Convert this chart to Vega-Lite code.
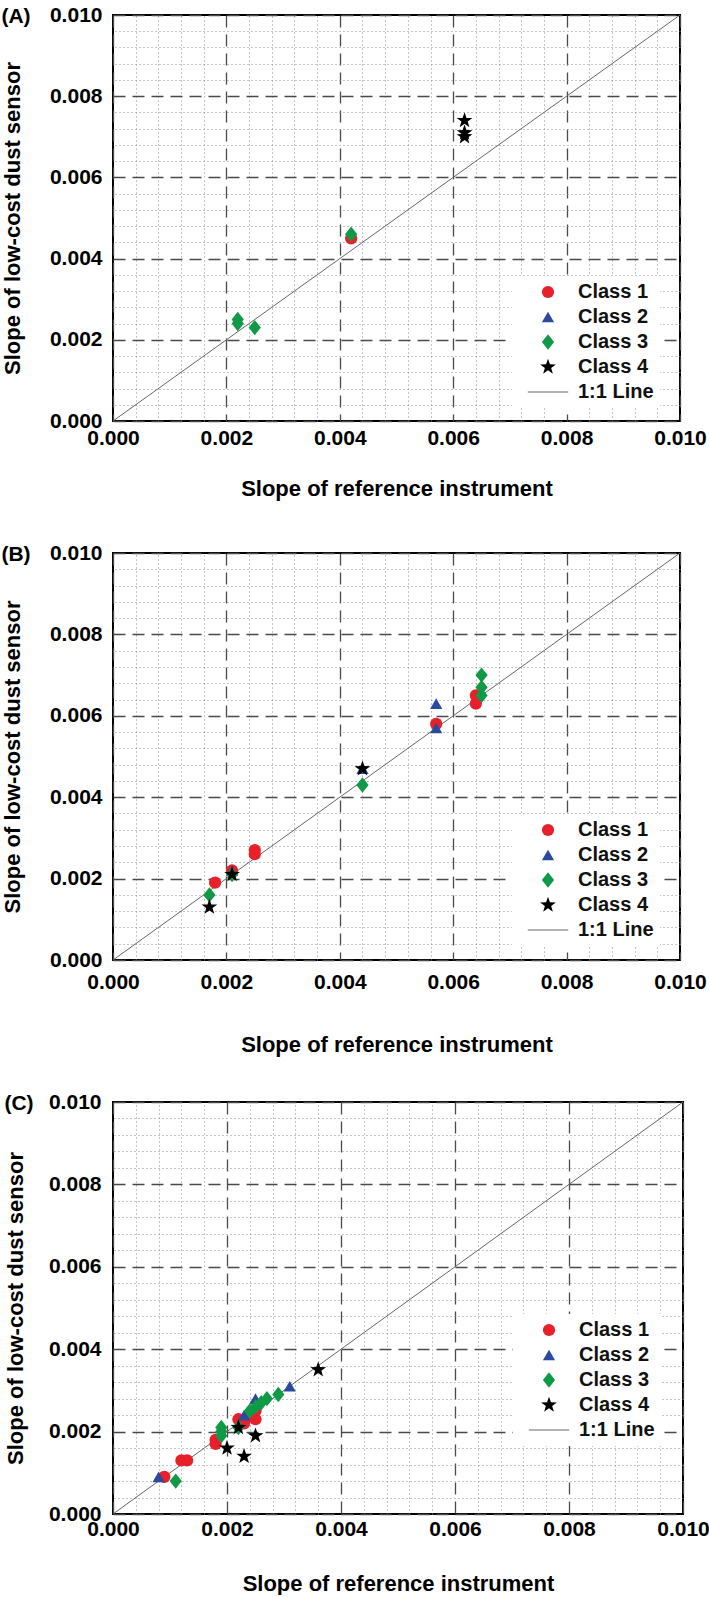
{
  "$schema": "https://vega.github.io/schema/vega-lite/v6.json",
  "padding": {"left": 0, "top": 3, "right": 0, "bottom": 0},
  "background": "white",
  "config": {
    "view": {"stroke": "#000000", "strokeWidth": 2},
    "font": "Liberation Sans",
    "title": {"font": "Liberation Sans", "fontSize": 21, "fontWeight": "bold", "color": "#000000", "anchor": "start", "frame": "bounds", "offset": -23}
  },
  "datasets": {
    "pts": [
      {"panel": "A", "cls": "Class 1", "x": 0.0042, "y": 0.0045},
      {"panel": "A", "cls": "Class 3", "x": 0.0042, "y": 0.0046},
      {"panel": "A", "cls": "Class 3", "x": 0.0022, "y": 0.0025},
      {"panel": "A", "cls": "Class 3", "x": 0.0022, "y": 0.0024},
      {"panel": "A", "cls": "Class 3", "x": 0.0025, "y": 0.0023},
      {"panel": "A", "cls": "Class 4", "x": 0.0062, "y": 0.0074},
      {"panel": "A", "cls": "Class 4", "x": 0.0062, "y": 0.0071},
      {"panel": "A", "cls": "Class 4", "x": 0.0062, "y": 0.0070},
      {"panel": "B", "cls": "Class 1", "x": 0.0057, "y": 0.0058},
      {"panel": "B", "cls": "Class 1", "x": 0.0025, "y": 0.0027},
      {"panel": "B", "cls": "Class 1", "x": 0.0025, "y": 0.0026},
      {"panel": "B", "cls": "Class 1", "x": 0.0018, "y": 0.0019},
      {"panel": "B", "cls": "Class 1", "x": 0.0021, "y": 0.0022},
      {"panel": "B", "cls": "Class 1", "x": 0.0064, "y": 0.0065},
      {"panel": "B", "cls": "Class 1", "x": 0.0064, "y": 0.0063},
      {"panel": "B", "cls": "Class 2", "x": 0.0057, "y": 0.0063},
      {"panel": "B", "cls": "Class 2", "x": 0.0057, "y": 0.0057},
      {"panel": "B", "cls": "Class 2", "x": 0.0044, "y": 0.0047},
      {"panel": "B", "cls": "Class 2", "x": 0.0021, "y": 0.0022},
      {"panel": "B", "cls": "Class 3", "x": 0.0044, "y": 0.0043},
      {"panel": "B", "cls": "Class 3", "x": 0.0021, "y": 0.0021},
      {"panel": "B", "cls": "Class 3", "x": 0.0017, "y": 0.0016},
      {"panel": "B", "cls": "Class 3", "x": 0.0065, "y": 0.0070},
      {"panel": "B", "cls": "Class 3", "x": 0.0065, "y": 0.0067},
      {"panel": "B", "cls": "Class 3", "x": 0.0065, "y": 0.0065},
      {"panel": "B", "cls": "Class 4", "x": 0.0044, "y": 0.0047},
      {"panel": "B", "cls": "Class 4", "x": 0.0021, "y": 0.0021},
      {"panel": "B", "cls": "Class 4", "x": 0.0017, "y": 0.0013},
      {"panel": "C", "cls": "Class 1", "x": 0.0025, "y": 0.0023},
      {"panel": "C", "cls": "Class 1", "x": 0.0024, "y": 0.0024},
      {"panel": "C", "cls": "Class 1", "x": 0.0025, "y": 0.0025},
      {"panel": "C", "cls": "Class 1", "x": 0.0022, "y": 0.0023},
      {"panel": "C", "cls": "Class 1", "x": 0.0023, "y": 0.0022},
      {"panel": "C", "cls": "Class 1", "x": 0.0018, "y": 0.0018},
      {"panel": "C", "cls": "Class 1", "x": 0.0018, "y": 0.0017},
      {"panel": "C", "cls": "Class 1", "x": 0.0012, "y": 0.0013},
      {"panel": "C", "cls": "Class 1", "x": 0.0013, "y": 0.0013},
      {"panel": "C", "cls": "Class 1", "x": 0.0009, "y": 0.0009},
      {"panel": "C", "cls": "Class 2", "x": 0.0031, "y": 0.0031},
      {"panel": "C", "cls": "Class 2", "x": 0.0025, "y": 0.0028},
      {"panel": "C", "cls": "Class 2", "x": 0.0023, "y": 0.0024},
      {"panel": "C", "cls": "Class 2", "x": 0.0008, "y": 0.0009},
      {"panel": "C", "cls": "Class 3", "x": 0.0029, "y": 0.0029},
      {"panel": "C", "cls": "Class 3", "x": 0.0027, "y": 0.0028},
      {"panel": "C", "cls": "Class 3", "x": 0.0026, "y": 0.0027},
      {"panel": "C", "cls": "Class 3", "x": 0.0025, "y": 0.0026},
      {"panel": "C", "cls": "Class 3", "x": 0.0024, "y": 0.0025},
      {"panel": "C", "cls": "Class 3", "x": 0.0022, "y": 0.0021},
      {"panel": "C", "cls": "Class 3", "x": 0.0019, "y": 0.0021},
      {"panel": "C", "cls": "Class 3", "x": 0.0019, "y": 0.0020},
      {"panel": "C", "cls": "Class 3", "x": 0.0019, "y": 0.0019},
      {"panel": "C", "cls": "Class 3", "x": 0.0011, "y": 0.0008},
      {"panel": "C", "cls": "Class 4", "x": 0.0036, "y": 0.0035},
      {"panel": "C", "cls": "Class 4", "x": 0.0022, "y": 0.0021},
      {"panel": "C", "cls": "Class 4", "x": 0.0020, "y": 0.0016},
      {"panel": "C", "cls": "Class 4", "x": 0.0025, "y": 0.0019},
      {"panel": "C", "cls": "Class 4", "x": 0.0023, "y": 0.0014}
    ],
    "line": [{"x": 0, "y": 0}, {"x": 0.01, "y": 0.01}]
  },
  "bounds": "flush",
  "spacing": 132,
  "resolve": {"scale": {"color": "independent", "shape": "independent"}, "legend": {"color": "independent", "shape": "independent"}},
  "vconcat": [
    {
      "title": {"text": "(A)"},
      "width": 567, "height": 406,
      "resolve": {"axis": {"x": "independent", "y": "independent"}},
      "layer": [
        {
          "data": {"name": "line"},
          "mark": {"type": "line", "color": "#666666", "strokeWidth": 1},
          "encoding": {
            "x": {"field": "x", "type": "quantitative", "scale": {"domain": [0, 0.01], "nice": false},
              "axis": {"orient": "top", "values": [0.0004,0.0008,0.0012,0.0016,0.0024,0.0028,0.0032,0.0036,0.0044,0.0048,0.0052,0.0056,0.0064,0.0068,0.0072,0.0076,0.0084,0.0088,0.0092,0.0096], "grid": true, "gridDash": [1, 3], "gridColor": "#8a8a8a", "gridWidth": 1, "labels": false, "ticks": false, "domain": false, "title": null}},
            "y": {"field": "y", "type": "quantitative", "scale": {"domain": [0, 0.01], "nice": false},
              "axis": {"orient": "right", "values": [0.0004,0.0008,0.0012,0.0016,0.0024,0.0028,0.0032,0.0036,0.0044,0.0048,0.0052,0.0056,0.0064,0.0068,0.0072,0.0076,0.0084,0.0088,0.0092,0.0096], "grid": true, "gridDash": [1, 3], "gridColor": "#8a8a8a", "gridWidth": 1, "labels": false, "ticks": false, "domain": false, "title": null}}
          }
        },
        {
          "data": {"name": "pts"},
          "transform": [{"filter": "datum.panel === 'A'"}],
          "mark": {"type": "point", "filled": true, "opacity": 1, "size": 150},
          "encoding": {
            "x": {"field": "x", "type": "quantitative", "scale": {"domain": [0, 0.01], "nice": false},
              "axis": {"orient": "bottom", "values": [0, 0.002, 0.004, 0.006, 0.008, 0.01], "format": ".3f", "grid": true, "gridDash": [12, 7], "gridColor": "#4a4a4a", "gridWidth": 1.3, "ticks": false, "domain": false, "labelFlush": false, "labelFont": "Liberation Sans", "labelFontSize": 21, "labelFontWeight": "bold", "labelColor": "#000000", "labelPadding": 6, "title": "Slope of reference instrument", "titleFont": "Liberation Sans", "titleFontSize": 22, "titleFontWeight": "bold", "titleColor": "#000000", "titlePadding": 30}},
            "y": {"field": "y", "type": "quantitative", "scale": {"domain": [0, 0.01], "nice": false},
              "axis": {"orient": "left", "values": [0, 0.002, 0.004, 0.006, 0.008, 0.01], "format": ".3f", "grid": true, "gridDash": [12, 7], "gridColor": "#4a4a4a", "gridWidth": 1.3, "ticks": false, "domain": false, "labelFlush": false, "labelFont": "Liberation Sans", "labelFontSize": 21, "labelFontWeight": "bold", "labelColor": "#000000", "labelPadding": 11, "title": "Slope of low-cost dust sensor", "titleFont": "Liberation Sans", "titleFontSize": 22, "titleFontWeight": "bold", "titleColor": "#000000", "titlePadding": 25}},
            "color": {"field": "cls", "type": "nominal", "scale": {"domain": ["Class 1", "Class 2", "Class 3", "Class 4", "1:1 Line"], "range": ["#e8202a", "#2b4a9e", "#109a48", "#000000", "#666666"]},
              "legend": {"orient": "none", "legendX": 399, "legendY": 261, "title": null, "fillColor": "white", "padding": 6, "labelFont": "Liberation Sans", "labelFontSize": 20, "labelFontWeight": "bold", "labelColor": "#111111", "symbolSize": 150, "symbolOffset": 20, "labelOffset": 20, "rowPadding": 5}},
            "shape": {"field": "cls", "type": "nominal", "scale": {"domain": ["Class 1", "Class 2", "Class 3", "Class 4", "1:1 Line"], "range": ["circle", "triangle-up", "M0,-1.25L1,0L0,1.25L-1,0Z", "M0,-1.35L0.317,-0.437L1.284,-0.417L0.513,0.168L0.794,1.092L0,0.54L-0.794,1.092L-0.513,0.168L-1.284,-0.417L-0.317,-0.437Z", "M-3.3,-0.09H3.3V0.09H-3.3Z"]},
              "legend": {"orient": "none", "legendX": 399, "legendY": 261, "title": null, "fillColor": "white", "padding": 6, "labelFont": "Liberation Sans", "labelFontSize": 20, "labelFontWeight": "bold", "labelColor": "#111111", "symbolSize": 150, "symbolOffset": 20, "labelOffset": 20, "rowPadding": 5}}
          }
        }
      ]
    },
    {
      "bounds": "flush",
      "spacing": 142,
      "resolve": {"scale": {"color": "independent", "shape": "independent"}, "legend": {"color": "independent", "shape": "independent"}},
      "vconcat": [
        {
          "title": {"text": "(B)"},
          "width": 567, "height": 407,
          "resolve": {"axis": {"x": "independent", "y": "independent"}},
          "layer": [
            {
              "data": {"name": "line"},
              "mark": {"type": "line", "color": "#666666", "strokeWidth": 1},
              "encoding": {
                "x": {"field": "x", "type": "quantitative", "scale": {"domain": [0, 0.01], "nice": false},
                  "axis": {"orient": "top", "values": [0.0004,0.0008,0.0012,0.0016,0.0024,0.0028,0.0032,0.0036,0.0044,0.0048,0.0052,0.0056,0.0064,0.0068,0.0072,0.0076,0.0084,0.0088,0.0092,0.0096], "grid": true, "gridDash": [1, 3], "gridColor": "#8a8a8a", "gridWidth": 1, "labels": false, "ticks": false, "domain": false, "title": null}},
                "y": {"field": "y", "type": "quantitative", "scale": {"domain": [0, 0.01], "nice": false},
                  "axis": {"orient": "right", "values": [0.0004,0.0008,0.0012,0.0016,0.0024,0.0028,0.0032,0.0036,0.0044,0.0048,0.0052,0.0056,0.0064,0.0068,0.0072,0.0076,0.0084,0.0088,0.0092,0.0096], "grid": true, "gridDash": [1, 3], "gridColor": "#8a8a8a", "gridWidth": 1, "labels": false, "ticks": false, "domain": false, "title": null}}
              }
            },
            {
              "data": {"name": "pts"},
              "transform": [{"filter": "datum.panel === 'B'"}],
              "mark": {"type": "point", "filled": true, "opacity": 1, "size": 150},
              "encoding": {
                "x": {"field": "x", "type": "quantitative", "scale": {"domain": [0, 0.01], "nice": false},
                  "axis": {"orient": "bottom", "values": [0, 0.002, 0.004, 0.006, 0.008, 0.01], "format": ".3f", "grid": true, "gridDash": [12, 7], "gridColor": "#4a4a4a", "gridWidth": 1.3, "ticks": false, "domain": false, "labelFlush": false, "labelFont": "Liberation Sans", "labelFontSize": 21, "labelFontWeight": "bold", "labelColor": "#000000", "labelPadding": 11, "title": "Slope of reference instrument", "titleFont": "Liberation Sans", "titleFontSize": 22, "titleFontWeight": "bold", "titleColor": "#000000", "titlePadding": 42}},
                "y": {"field": "y", "type": "quantitative", "scale": {"domain": [0, 0.01], "nice": false},
                  "axis": {"orient": "left", "values": [0, 0.002, 0.004, 0.006, 0.008, 0.01], "format": ".3f", "grid": true, "gridDash": [12, 7], "gridColor": "#4a4a4a", "gridWidth": 1.3, "ticks": false, "domain": false, "labelFlush": false, "labelFont": "Liberation Sans", "labelFontSize": 21, "labelFontWeight": "bold", "labelColor": "#000000", "labelPadding": 11, "title": "Slope of low-cost dust sensor", "titleFont": "Liberation Sans", "titleFontSize": 22, "titleFontWeight": "bold", "titleColor": "#000000", "titlePadding": 25}},
                "color": {"field": "cls", "type": "nominal", "scale": {"domain": ["Class 1", "Class 2", "Class 3", "Class 4", "1:1 Line"], "range": ["#e8202a", "#2b4a9e", "#109a48", "#000000", "#666666"]},
                  "legend": {"orient": "none", "legendX": 399, "legendY": 261, "title": null, "fillColor": "white", "padding": 6, "labelFont": "Liberation Sans", "labelFontSize": 20, "labelFontWeight": "bold", "labelColor": "#111111", "symbolSize": 150, "symbolOffset": 20, "labelOffset": 20, "rowPadding": 5}},
                "shape": {"field": "cls", "type": "nominal", "scale": {"domain": ["Class 1", "Class 2", "Class 3", "Class 4", "1:1 Line"], "range": ["circle", "triangle-up", "M0,-1.25L1,0L0,1.25L-1,0Z", "M0,-1.35L0.317,-0.437L1.284,-0.417L0.513,0.168L0.794,1.092L0,0.54L-0.794,1.092L-0.513,0.168L-1.284,-0.417L-0.317,-0.437Z", "M-3.3,-0.09H3.3V0.09H-3.3Z"]},
                  "legend": {"orient": "none", "legendX": 399, "legendY": 261, "title": null, "fillColor": "white", "padding": 6, "labelFont": "Liberation Sans", "labelFontSize": 20, "labelFontWeight": "bold", "labelColor": "#111111", "symbolSize": 150, "symbolOffset": 20, "labelOffset": 20, "rowPadding": 5}}
              }
            }
          ]
        },
        {
          "title": {"text": "(C)"},
          "width": 570, "height": 412,
          "resolve": {"axis": {"x": "independent", "y": "independent"}},
          "layer": [
            {
              "data": {"name": "line"},
              "mark": {"type": "line", "color": "#666666", "strokeWidth": 1},
              "encoding": {
                "x": {"field": "x", "type": "quantitative", "scale": {"domain": [0, 0.01], "nice": false},
                  "axis": {"orient": "top", "values": [0.0004,0.0008,0.0012,0.0016,0.0024,0.0028,0.0032,0.0036,0.0044,0.0048,0.0052,0.0056,0.0064,0.0068,0.0072,0.0076,0.0084,0.0088,0.0092,0.0096], "grid": true, "gridDash": [1, 3], "gridColor": "#8a8a8a", "gridWidth": 1, "labels": false, "ticks": false, "domain": false, "title": null}},
                "y": {"field": "y", "type": "quantitative", "scale": {"domain": [0, 0.01], "nice": false},
                  "axis": {"orient": "right", "values": [0.0004,0.0008,0.0012,0.0016,0.0024,0.0028,0.0032,0.0036,0.0044,0.0048,0.0052,0.0056,0.0064,0.0068,0.0072,0.0076,0.0084,0.0088,0.0092,0.0096], "grid": true, "gridDash": [1, 3], "gridColor": "#8a8a8a", "gridWidth": 1, "labels": false, "ticks": false, "domain": false, "title": null}}
              }
            },
            {
              "data": {"name": "pts"},
              "transform": [{"filter": "datum.panel === 'C'"}],
              "mark": {"type": "point", "filled": true, "opacity": 1, "size": 150},
              "encoding": {
                "x": {"field": "x", "type": "quantitative", "scale": {"domain": [0, 0.01], "nice": false},
                  "axis": {"orient": "bottom", "values": [0, 0.002, 0.004, 0.006, 0.008, 0.01], "format": ".3f", "grid": true, "gridDash": [12, 7], "gridColor": "#4a4a4a", "gridWidth": 1.3, "ticks": false, "domain": false, "labelFlush": false, "labelFont": "Liberation Sans", "labelFontSize": 21, "labelFontWeight": "bold", "labelColor": "#000000", "labelPadding": 4, "title": "Slope of reference instrument", "titleFont": "Liberation Sans", "titleFontSize": 22, "titleFontWeight": "bold", "titleColor": "#000000", "titlePadding": 34}},
                "y": {"field": "y", "type": "quantitative", "scale": {"domain": [0, 0.01], "nice": false},
                  "axis": {"orient": "left", "values": [0, 0.002, 0.004, 0.006, 0.008, 0.01], "format": ".3f", "grid": true, "gridDash": [12, 7], "gridColor": "#4a4a4a", "gridWidth": 1.3, "ticks": false, "domain": false, "labelFlush": false, "labelFont": "Liberation Sans", "labelFontSize": 21, "labelFontWeight": "bold", "labelColor": "#000000", "labelPadding": 12, "title": "Slope of low-cost dust sensor", "titleFont": "Liberation Sans", "titleFontSize": 22, "titleFontWeight": "bold", "titleColor": "#000000", "titlePadding": 21}},
                "color": {"field": "cls", "type": "nominal", "scale": {"domain": ["Class 1", "Class 2", "Class 3", "Class 4", "1:1 Line"], "range": ["#e8202a", "#2b4a9e", "#109a48", "#000000", "#666666"]},
                  "legend": {"orient": "none", "legendX": 400, "legendY": 212, "title": null, "fillColor": "white", "padding": 6, "labelFont": "Liberation Sans", "labelFontSize": 20, "labelFontWeight": "bold", "labelColor": "#111111", "symbolSize": 150, "symbolOffset": 20, "labelOffset": 20, "rowPadding": 5}},
                "shape": {"field": "cls", "type": "nominal", "scale": {"domain": ["Class 1", "Class 2", "Class 3", "Class 4", "1:1 Line"], "range": ["circle", "triangle-up", "M0,-1.25L1,0L0,1.25L-1,0Z", "M0,-1.35L0.317,-0.437L1.284,-0.417L0.513,0.168L0.794,1.092L0,0.54L-0.794,1.092L-0.513,0.168L-1.284,-0.417L-0.317,-0.437Z", "M-3.3,-0.09H3.3V0.09H-3.3Z"]},
                  "legend": {"orient": "none", "legendX": 400, "legendY": 212, "title": null, "fillColor": "white", "padding": 6, "labelFont": "Liberation Sans", "labelFontSize": 20, "labelFontWeight": "bold", "labelColor": "#111111", "symbolSize": 150, "symbolOffset": 20, "labelOffset": 20, "rowPadding": 5}}
              }
            }
          ]
        }
      ]
    }
  ]
}
